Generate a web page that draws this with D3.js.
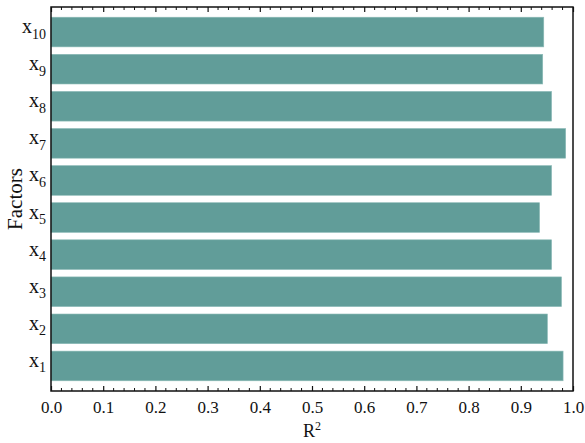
<!DOCTYPE html>
<html>
<head>
<meta charset="utf-8">
<script src="https://cdn.jsdelivr.net/npm/d3@7"></script>
<style>
  html, body { margin: 0; padding: 0; background: #fff; }
  svg { display: block; }
  text { font-family: "Liberation Serif", "Times New Roman", serif; fill: #111; }
</style>
</head>
<body>
<svg id="chart" width="585" height="443"></svg>
<script>
// Factor indices (x1 ... x10) and their R² values
const factors = [1, 2, 3, 4, 5, 6, 7, 8, 9, 10];
const r2 = [0.981, 0.951, 0.978, 0.959, 0.936, 0.959, 0.986, 0.959, 0.942, 0.944];
const xTicks = [0.0, 0.1, 0.2, 0.3, 0.4, 0.5, 0.6, 0.7, 0.8, 0.9, 1.0];

const W = 585, H = 443;
const m = { left: 51, right: 12, top: 7, bottom: 52 };
const x0 = m.left, x1 = W - m.right, y0 = m.top, y1 = H - m.bottom;

const svg = d3.select("#chart");

const x = d3.scaleLinear().domain([0, 1]).range([x0, x1]);
// x10 at the top, x1 at the bottom
const y = d3.scaleBand()
  .domain(factors.slice().reverse())
  .range([y0, y1])
  .paddingInner(0.2)
  .paddingOuter(0.275);

const data = factors.map((f, i) => ({ f, v: r2[i] }));

// Bars
svg.append("g")
  .selectAll("rect")
  .data(data)
  .join("rect")
  .attr("x", x(0))
  .attr("y", d => y(d.f))
  .attr("width", d => x(d.v) - x(0))
  .attr("height", y.bandwidth())
  .attr("fill", "#619d99")
  .attr("stroke", "#8dbbb7")
  .attr("stroke-width", 0.6);

// Inward ticks on bottom and top edges: major every 0.1, minor every 0.02
const minor = d3.range(0, 51).map(i => i / 50).filter(v => Math.round(v * 50) % 5 !== 0);

const bottomAxis = svg.append("g").attr("transform", `translate(0,${y1})`);
bottomAxis.call(d3.axisBottom(x).tickValues(xTicks).tickSize(-5).tickFormat(d3.format(".1f")).tickPadding(10))
  .call(g => g.select(".domain").remove())
  .call(g => g.selectAll("line").attr("stroke", "#111").attr("stroke-width", 1.2))
  .call(g => g.selectAll("text").attr("font-size", 17).attr("font-family", "Liberation Serif").attr("fill", "#111"));
bottomAxis.selectAll(".minor").data(minor).join("line")
  .attr("class", "minor")
  .attr("x1", d => x(d)).attr("x2", d => x(d))
  .attr("y1", 0).attr("y2", -3)
  .attr("stroke", "#111").attr("stroke-width", 1);

const topAxis = svg.append("g").attr("transform", `translate(0,${y0})`);
topAxis.call(d3.axisTop(x).tickValues(xTicks).tickSize(-5).tickFormat(""))
  .call(g => g.select(".domain").remove())
  .call(g => g.selectAll("line").attr("stroke", "#111").attr("stroke-width", 1.2));
topAxis.selectAll(".minor").data(minor).join("line")
  .attr("class", "minor")
  .attr("x1", d => x(d)).attr("x2", d => x(d))
  .attr("y1", 0).attr("y2", 3)
  .attr("stroke", "#111").attr("stroke-width", 1);

// Frame
svg.append("rect")
  .attr("x", x0).attr("y", y0)
  .attr("width", x1 - x0).attr("height", y1 - y0)
  .attr("fill", "none").attr("stroke", "#111").attr("stroke-width", 1.5);

// Category labels with subscripts
const yl = svg.append("g").selectAll("text")
  .data(factors)
  .join("text")
  .attr("x", 46)
  .attr("y", d => y(d) + y.bandwidth() / 2 + 1)
  .attr("text-anchor", "end")
  .attr("font-size", 20);
yl.append("tspan").text("x");
yl.append("tspan").attr("font-size", 14).attr("dy", 5.5).text(d => d);

// Axis titles
const xt = svg.append("text")
  .attr("x", (x0 + x1) / 2)
  .attr("y", 437)
  .attr("text-anchor", "middle")
  .attr("font-size", 18);
xt.append("tspan").text("R");
xt.append("tspan").attr("font-size", 12).attr("dy", -7).text("2");

svg.append("text")
  .attr("transform", `translate(22,${(y0 + y1) / 2}) rotate(-90)`)
  .attr("text-anchor", "middle")
  .attr("font-size", 21)
  .text("Factors");
</script>
</body>
</html>
